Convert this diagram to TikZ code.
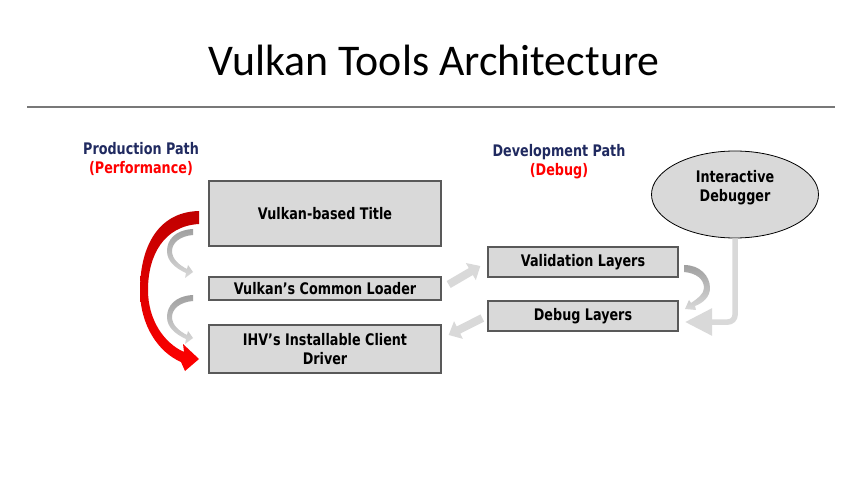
\documentclass[tikz,border=0pt]{standalone}
\usepackage{fontspec}
\setmainfont{DejaVu Sans}[FakeStretch=0.80]
\newfontfamily\titlefont{Carlito}
\usetikzlibrary{arrows.meta,shapes.geometric,calc}
\definecolor{boxfill}{RGB}{217,217,217}
\definecolor{boxline}{RGB}{89,89,89}
\definecolor{navy}{RGB}{32,42,96}
\definecolor{pred}{RGB}{255,0,0}
\definecolor{dred}{RGB}{192,0,0}
\definecolor{lgray}{RGB}{217,217,217}
\definecolor{mgray}{RGB}{160,160,160}
\definecolor{rule}{RGB}{120,120,120}
\tikzset{
  boxtxt/.style={font=\fontsize{16}{19}\selectfont\bfseries},
  layerbox/.style={draw=boxline, line width=1.3bp, fill=boxfill, inner sep=0pt, align=center, boxtxt},
  headtxt/.style={font=\fontsize{16}{19}\selectfont\bfseries, inner sep=0pt},
  flatarrow/.style={draw=lgray, line width=8bp, -{Triangle[length=11bp,width=19bp]}},
}
\begin{document}
\begin{tikzpicture}[x=1bp,y=-1bp]
\useasboundingbox (0,0) rectangle (864,486);
\fill[white] (0,0) rectangle (864,486);
% title
\node[font=\titlefont\fontsize{44}{52}\selectfont, inner sep=0pt] (title) at (434,60) {Vulkan Tools Architecture};
\coordinate (ruleL) at (27,107);
\coordinate (ruleR) at (835,107);
\draw[rule, line width=1.2bp] (ruleL) -- (ruleR);
% headings
\node[headtxt, text=navy] (prod) at (141,149) {Production Path};
\node[headtxt, text=pred] (perf) at (141,168) {(Performance)};
\node[headtxt, text=navy] (dev) at (559,152) {Development Path};
\node[headtxt, text=pred] (dbg) at (559,171) {(Debug)};
% boxes
\node[layerbox, minimum width=232bp, minimum height=65bp] (app) at (325,213.5) {Vulkan-based Title};
\node[layerbox, minimum width=232bp, minimum height=23bp] (loader) at (325,288.5) {Vulkan’s Common Loader};
\node[layerbox, minimum width=232bp, minimum height=48bp] (icd) at (325,349) {IHV’s Installable Client\\Driver};
\node[layerbox, minimum width=190bp, minimum height=30bp] (valid) at (583,262) {Validation Layers};
\node[layerbox, minimum width=190bp, minimum height=30bp] (debugl) at (583,316) {Debug Layers};
\node[ellipse, draw=black, line width=0.8bp, fill=boxfill, minimum width=167bp, minimum height=87bp, inner sep=0pt] (idbg) at (735,194.5) {};
\node[boxtxt, align=center, inner sep=0pt] (idbgtxt) at (735,188) {Interactive\\Debugger};
% red production-path arrow
\shade[top color=dred, bottom color=pred, shading angle=0]
  (199,211) .. controls (156,212) and (140,250) .. (140,290)
  .. controls (140,325) and (158,352) .. (181,362)
  -- (185,371) -- (199,359) -- (183,344) -- (184,352)
  .. controls (164,343) and (148,320) .. (148,290)
  .. controls (148,255) and (164,226) .. (199,224) -- cycle;
% small gray curved arrows on the left
\foreach \dy in {0,66}{
\shade[top color=mgray, bottom color=lgray]
  (193,{229+\dy}) .. controls (175,{230+\dy}) and (167,{240+\dy}) .. (167,{251+\dy})
  .. controls (167,{261+\dy}) and (175,{268+\dy}) .. (186,{273+\dy})
  -- (185,{278+\dy}) -- (193,{272+\dy}) -- (188,{265+\dy}) -- (187,{269+\dy})
  .. controls (179,{265+\dy}) and (172,{259+\dy}) .. (172,{251+\dy})
  .. controls (172,{243+\dy}) and (180,{236+\dy}) .. (193,{235+\dy}) -- cycle;
}
% gray curved arrow on the right
\shade[top color=mgray, bottom color=lgray]
  (684,265) .. controls (700,265) and (710,276) .. (710,288)
  .. controls (710,297) and (703,303) .. (695,306)
  -- (696,310) -- (685,309) -- (689,300) -- (691,303)
  .. controls (697,299) and (704,294) .. (704,288)
  .. controls (704,279) and (696,273) .. (684,272) -- cycle;
% straight arrows
\coordinate (a1s) at ($(loader.east)+(7,-4)$);
\coordinate (a1e) at ($(valid.west)+(-7,4)$);
\draw[flatarrow] (a1s) -- (a1e);
\coordinate (a2s) at ($(debugl.west)+(-5,2)$);
\coordinate (a2e) at ($(icd.east)+(7,-14)$);
\draw[flatarrow] (a2s) -- (a2e);
% debugger connector
\coordinate (dbgtip) at (685,322);
\draw[lgray, line width=5.5bp, rounded corners=7bp, -{Triangle[length=27bp,width=26bp]}] (idbg.south) |- (dbgtip);
\end{tikzpicture}
\end{document}
